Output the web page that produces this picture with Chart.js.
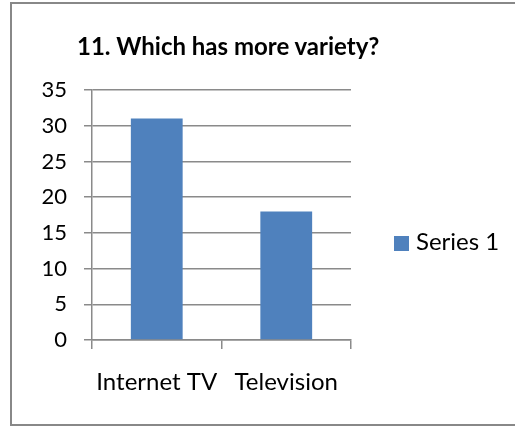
<!DOCTYPE html>
<html>
<head>
<meta charset="utf-8">
<script src="https://cdn.jsdelivr.net/npm/chart.js@4.4.1/dist/chart.umd.min.js"></script>
<style>
  html, body { margin: 0; padding: 0; background: #fff; overflow: hidden; }
  #wrap { position: relative; width: 515px; height: 427px; }
  #frame {
    position: absolute; left: 10px; top: 2px; width: 520px; height: 424px;
    border: 2px solid #888; box-sizing: border-box;
  }
  #chart { position: absolute; left: 0; top: 0; }
  #title {
    position: absolute; left: 77px; top: 31px; white-space: nowrap;
    font: bold 24px Lato, sans-serif; color: #000;
  }
  #legend {
    position: absolute; left: 394px; top: 226px; white-space: nowrap;
    font: 24px Lato, sans-serif; color: #000;
  }
  #legend .swatch {
    display: inline-block; width: 15px; height: 15px; margin-right: 7px;
    vertical-align: -1px;
  }
</style>
</head>
<body>
<div id="wrap">
  <div id="frame"></div>
  <canvas id="chart" width="515" height="427"></canvas>
  <div id="title"></div>
  <div id="legend"></div>
</div>
<script>
const titleText = '11. Which has more variety?';
const categories = ['Internet TV', 'Television'];
const seriesName = 'Series 1';
const seriesValues = [31, 18];
const yTicks = [0, 5, 10, 15, 20, 25, 30, 35];

const barColor = '#4f81bd';
const gridColor = '#8a8a8a';

document.getElementById('title').textContent = titleText;

// legend rendered as html next to the plot
const htmlLegend = {
  id: 'htmlLegend',
  afterUpdate(chart) {
    const box = document.getElementById('legend');
    box.innerHTML = '';
    const items = Chart.defaults.plugins.legend.labels.generateLabels(chart);
    items.forEach(item => {
      const row = document.createElement('div');
      const sw = document.createElement('span');
      sw.className = 'swatch';
      sw.style.background = item.fillStyle;
      row.appendChild(sw);
      row.appendChild(document.createTextNode(item.text));
      box.appendChild(row);
    });
  }
};

const ctx = document.getElementById('chart').getContext('2d');
new Chart(ctx, {
  type: 'bar',
  data: {
    labels: categories,
    datasets: [{
      label: seriesName,
      data: seriesValues,
      backgroundColor: barColor,
      borderWidth: 0,
      barPercentage: 0.4,
      categoryPercentage: 1
    }]
  },
  options: {
    responsive: false,
    animation: false,
    layout: { padding: { left: 0, right: 164, top: 90, bottom: 0 } },
    plugins: {
      legend: { display: false },
      title: { display: false },
      tooltip: { enabled: false }
    },
    scales: {
      x: {
        afterFit(scale) { scale.height = 87; },
        grid: {
          offset: true,
          drawOnChartArea: false,
          drawTicks: true,
          tickLength: 9,
          lineWidth: 1.5,
          color: gridColor
        },
        border: { color: gridColor, width: 1.5 },
        ticks: {
          padding: 19,
          color: '#000',
          font: { family: 'Lato', size: 24 }
        }
      },
      y: {
        min: 0,
        max: 35,
        afterFit(scale) { scale.width = 92; },
        afterBuildTicks(scale) { scale.ticks = yTicks.map(v => ({ value: v })); },
        grid: { color: gridColor, tickLength: 8, lineWidth: 1.5 },
        border: { color: gridColor, width: 1.5 },
        ticks: {
          padding: 17,
          color: '#000',
          font: { family: 'Lato', size: 22 }
        }
      }
    }
  },
  plugins: [htmlLegend]
});
</script>
</body>
</html>
